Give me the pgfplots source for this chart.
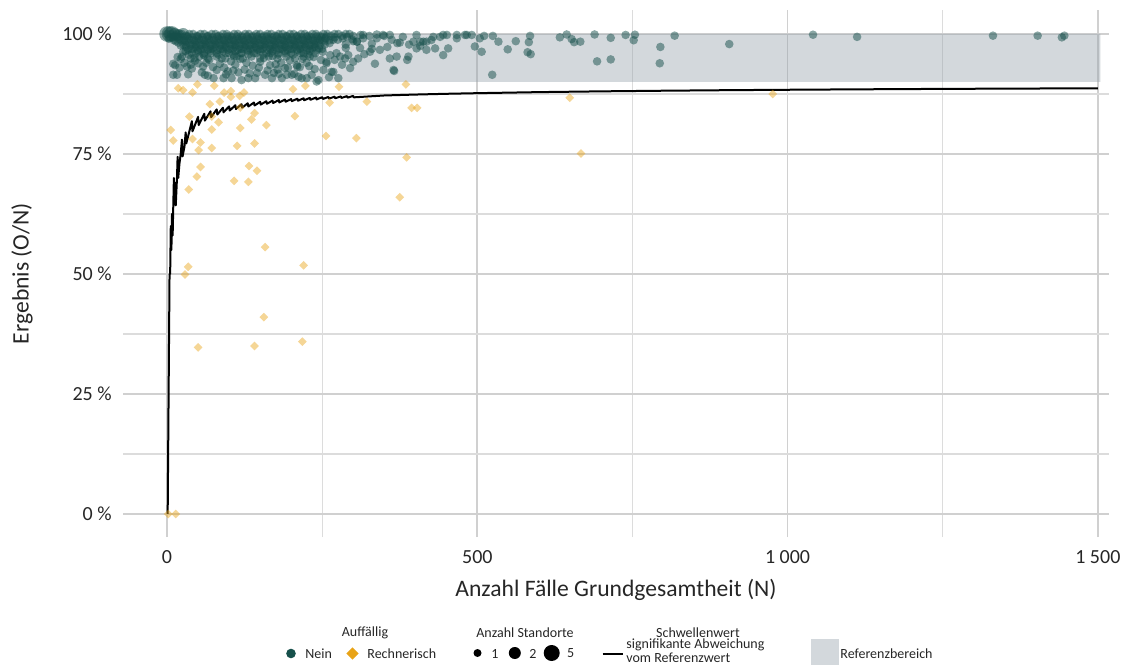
\documentclass[border=0pt]{standalone}
\usepackage{fontspec}
\setmainfont{Carlito}
\usepackage{pgfplots}
\pgfplotsset{compat=1.18}

\definecolor{nein}{RGB}{22,80,75}
\definecolor{rech}{RGB}{232,163,23}
\definecolor{refb}{RGB}{149,161,171}
\definecolor{refleg}{RGB}{211,216,220}
\definecolor{gridc}{RGB}{208,208,208}

\begin{document}
\begin{tikzpicture}[x=1pt,y=1pt]
\useasboundingbox (0,0) rectangle (561.5,332);
\clip (0,0) rectangle (561.5,332);
\begin{axis}[
  at={(61.5pt,63.5pt)}, anchor=south west,
  width=493pt, height=263.5pt, scale only axis,
  xmin=-71, xmax=1518, ymin=-4.8, ymax=105,
  axis line style={draw=none},
  major tick length=0pt, minor tick length=0pt,
  xtick={0,500,1000,1500}, xticklabels={0,500,{1 000},{1 500}},
  minor xtick={250,750,1250},
  ytick={0,25,50,75,100}, yticklabels={0 \%,25 \%,50 \%,75 \%,100 \%},
  minor ytick={12.5,37.5,62.5,87.5},
  grid=both,
  major grid style={gridc, line width=0.9pt},
  minor grid style={gridc!75, line width=0.6pt},
  tick label style={font=\fontsize{10}{12}\selectfont, text=black!85},
  yticklabel style={inner sep=0pt, xshift=-5.5pt},
  xticklabel style={inner sep=0pt, yshift=-6.5pt},
  xlabel={Anzahl Fälle Grundgesamtheit (N)},
  ylabel={Ergebnis (O/N)},
  label style={font=\fontsize{11.8}{13}\selectfont, text=black!85},
  xlabel style={at={(axis description cs:0.5,-0.1006)}, anchor=center},
  ylabel style={at={(axis description cs:-0.1024,0.5)}, anchor=center},
  neinmark/.style={only marks, mark=*, color=nein,
    mark options={fill=nein, fill opacity=0.5, draw opacity=0}},
]
% Referenzbereich
\addplot[draw=none, fill=refb, fill opacity=0.42] coordinates {(0,90) (0,100) (1504,100) (1504,90) (0,90)};

% Schwellenwert
\addplot[black, line width=1pt, line join=round] coordinates {
(1,0) (4,50) (5,50) (6,60) (7,55) (8,62.5) (9,58) (10,64) (11,70) (12,66) (13,69) (14,64.3)
(16,70) (17,74.4) (18,70) (20,73) (22,75) (24,78) (25,74.5) (28,76.5) (30,79.5) (31,77.2)
(40,81.83) (41,79.73) (50,82.72) (51,81.03) (60,83.38) (61,81.96) (70,83.88) (71,82.67)
(80,84.29) (81,83.22) (90,84.63) (91,83.68) (100,84.92) (101,84.05) (110,85.16) (111,84.37)
(120,85.37) (121,84.65) (130,85.56) (131,84.89) (140,85.72) (141,85.10) (150,85.87) (151,85.29)
(160,86.00) (161,85.46) (170,86.12) (171,85.62) (180,86.24) (181,85.75) (190,86.34) (191,85.88)
(200,86.43) (201,86.00) (210,86.52) (211,86.10) (220,86.60) (221,86.20) (230,86.68) (231,86.29)
(240,86.75) (241,86.38) (250,86.82) (251,86.46) (260,86.88) (261,86.54) (270,86.94) (271,86.61)
(280,87.00) (281,86.68) (290,87.05) (291,86.74) (300,87.10) (301,86.80)
(350,87.19) (400,87.38) (450,87.54) (500,87.67) (600,87.89) (700,88.05) (800,88.18)
(900,88.29) (1000,88.38) (1100,88.46) (1200,88.53) (1300,88.59) (1400,88.64) (1500,88.69)
};

% Auffaellig: Nein, 1 Standort
\addplot[neinmark, mark size=2.15pt] coordinates {
(0,100) (6,100) (12,99.6) (18,100) (24,100) (30,99.6) (36,100) (42,100) (48,99.6) (54,100) (60,100)
(66,99.6) (72,100) (78,100) (84,99.6) (90,100) (96,100) (102,99.6) (108,100) (114,100) (120,99.6)
(126,100) (132,100) (138,99.6) (144,100) (150,100) (156,99.6) (162,100) (168,100) (174,99.6)
(180,100) (186,100) (192,99.6) (198,100) (204,100) (210,99.6) (216,100) (222,100) (228,99.6)
(234,100) (240,100) (246,99.6) (252,100) (258,100) (264,99.6) (270,100) (276,100) (282,99.6)
(288,100) (294,100) (300,99.6) (312,99.8) (326,99.6) (338,99.9) (350,99.6)
(9,99.3) (17,99.5) (25,99.3) (33,99.5) (41,99.3) (49,99.5) (57,99.3) (65,99.5) (73,99.3) (81,99.5)
(89,99.3) (97,99.5) (105,99.3) (113,99.5) (121,99.3) (129,99.5) (137,99.3) (145,99.5) (153,99.3)
(161,99.5) (169,99.3) (177,99.5) (185,99.3) (193,99.5) (201,99.3) (209,99.5) (217,99.3) (225,99.5)
(233,99.3) (241,99.5) (249,99.3) (257,99.5) (270,99.3) (290,99.4)
(3,99.0) (11,98.7) (19,99.0) (27,98.7) (35,99.0) (43,98.7) (51,99.0) (59,98.7) (67,99.0) (75,98.7)
(83,99.0) (91,98.7) (99,99.0) (107,98.7) (115,99.0) (123,98.7) (131,99.0) (139,98.7) (147,99.0)
(155,98.7) (163,99.0) (171,98.7) (179,99.0) (187,98.7) (195,99.0) (203,98.7) (211,99.0) (219,98.7)
(227,99.0) (235,98.7) (243,99.0) (255,99.1) (268,98.8) (283,99.1) (298,98.9) (316,99.1) (338,99.1)
(14,98.5) (22,98.7) (30,98.5) (38,98.7) (46,98.5) (54,98.7) (62,98.5) (70,98.7) (78,98.5) (86,98.7)
(94,98.5) (102,98.7) (110,98.5) (118,98.7) (126,98.5) (134,98.7) (142,98.5) (150,98.7) (158,98.5)
(166,98.7) (174,98.5) (182,98.7) (190,98.5) (198,98.7) (206,98.5) (214,98.7) (222,98.5) (230,98.7)
(238,98.5) (246,98.7) (254,98.5) (262,98.7)
(18,98.2) (26,97.8) (34,98.2) (42,97.8) (50,98.2) (58,97.8) (66,98.2) (74,97.8) (82,98.2) (90,97.8)
(98,98.2) (106,97.8) (114,98.2) (122,97.8) (130,98.2) (138,97.8) (146,98.2) (154,97.8) (162,98.2)
(170,97.8) (178,98.2) (186,97.8) (194,98.2) (202,97.8) (210,98.2) (218,97.8) (226,98.2) (234,97.8)
(242,98.2) (250,98.6) (262,98.1) (275,98.8) (288,97.8) (300,98.5) (306,98.4)
(22,97.6) (30,97.8) (38,97.6) (46,97.8) (54,97.6) (62,97.8) (70,97.6) (78,97.8) (86,97.6) (94,97.8)
(102,97.6) (110,97.8) (118,97.6) (126,97.8) (134,97.6) (142,97.8) (150,97.6) (158,97.8) (166,97.6)
(174,97.8) (182,97.6) (190,97.8) (198,97.6) (206,97.8) (214,97.6) (222,97.8) (230,97.6) (238,97.8)
(246,97.6) (254,97.8)
(30,97.3) (38,96.9) (46,97.3) (54,96.9) (62,97.3) (70,96.9) (78,97.3) (86,96.9) (94,97.3) (102,96.9)
(110,97.3) (118,96.9) (126,97.3) (134,96.9) (142,97.3) (150,96.9) (158,97.3) (166,96.9) (174,97.3)
(182,96.9) (190,97.3) (198,96.9) (206,97.3) (214,96.9) (222,97.3) (230,96.9) (238,97.3) (245,97.0)
(288,97.1) (311,97.1) (343,96.7)
(34,96.7) (42,96.9) (50,96.7) (58,96.9) (66,96.7) (74,96.9) (82,96.7) (90,96.9) (98,96.7) (106,96.9)
(114,96.7) (122,96.9) (130,96.7) (138,96.9) (146,96.7) (154,96.9) (162,96.7) (170,96.9) (178,96.7)
(186,96.9) (194,96.7) (202,96.9) (210,96.7) (218,96.9) (226,96.7) (234,96.9) (242,96.7) (250,96.9)
(30,96.4) (40,96.0) (50,96.4) (60,96.0) (70,96.4) (80,96.0) (90,96.4) (100,96.0) (110,96.4)
(120,96.0) (130,96.4) (140,96.0) (150,96.4) (160,96.0) (170,96.4) (180,96.0) (190,96.4) (200,96.0)
(210,96.4) (220,96.0) (230,96.4) (251,96.3) (273,96.0) (327,96.3)
(35,95.7) (47,96.0) (59,95.7) (71,96.0) (83,95.7) (95,96.0) (107,95.7) (119,96.0) (131,95.7)
(143,96.0) (155,95.7) (167,96.0) (179,95.7) (191,96.0) (203,95.7) (215,96.0) (227,95.7) (239,96.0)
(24,95.3) (38,94.9) (52,95.3) (66,94.9) (80,95.3) (94,94.9) (108,95.3) (122,94.9) (136,95.3)
(150,94.9) (164,95.3) (178,94.9) (192,95.3) (206,94.9) (220,95.3) (230,95.3) (263,95.6) (279,95.3)
(287,94.9) (308,94.9) (359,94.9) (370,95.3) (389,95.3)
(22,94.8) (32,93.2) (44,95.0) (56,92.0) (63,94.0) (74,93.1) (88,94.9) (92,93.0) (103,94.3) (115,92.0)
(128,94.0) (133,91.8) (148,93.0) (156,95.0) (166,93.5) (172,91.9) (184,94.0) (195,93.0) (205,91.7)
(218,94.8) (229,93.3) (248,94.6) (252,92.5) (270,94.6) (282,93.6) (60,95.5) (112,95.3) (170,95.4)
(236,95.2) (292,95.6) (318,95.8) (335,93.8) (10,93.8) (17,95.2) (38,93.6) (66,91.3) (107,92.4)
(178,92.6) (212,91.1) (261,91.0)
(13,93.5) (16,91.5) (34,91.6) (50,93.9) (61,91.5) (75,90.8) (91,90.8) (104,90.8) (120,90.4)
(131,90.8) (142,90.8) (158,91.5) (169,90.8) (185,90.8) (201,91.5) (217,90.8) (233,91.5) (244,90.4)
(20,93.0) (28,94.0) (40,92.8) (45,94.4) (58,93.2) (68,94.6) (80,92.5) (85,93.8) (98,92.2) (110,93.6)
(118,94.8) (125,92.6) (138,93.4) (150,94.2) (162,92.4) (175,93.7) (190,92.9) (198,94.5) (210,93.2)
(225,94.0) (238,92.7) (10,91.5) (26,96.3) (95,91.6) (145,91.9) (180,91.7) (257,94.2) (268,92.1)
(276,90.8) (295,92.9) (300,94.2) (366,92.3) (387,94.6) (365,92.5) (257,93.9) (265,92.1) (241,90.1)
(225,90.8) (209,93.5) (193,91.5) (214,93.1)
(330,98.0) (355,97.3) (362,98.8) (380,99.4) (390,97.8) (330,96.9)
(359,99.8) (371,98.1) (402,97.0) (408,98.4) (418,98.4) (426,98.75) (432,97.0) (440,99.4) (451,99.8)
(453,97.0) (467,99.1) (483,99.8) (496,97.4) (507,96.3) (402,99.8) (413,98.4) (429,99.4) (445,99.8)
(467,99.8) (480,99.8) (491,99.8) (504,99.1) (445,95.6) (418,96.7) (408,97.5) (397,98.4) (375,98.2)
(348,99.8) (316,99.8) (306,98.4)
(511,99.6) (525,99.6) (534,98.4) (549,96.8) (562,98.5) (524,91.5) (585,99.6) (583,98.3) (581,96.2)
(586,95.8) (633,99.3) (644,99.9) (652,98.95) (656,98.3) (666,98.4) (689,99.9) (715,99.2) (693,94.3)
(715,94.7) (739,99.8) (754,99.85) (752,98.7) (795,97.3) (794,93.9) (818,99.65) (906,97.9)
(1041,99.85) (1112,99.4) (1331,99.65) (1403,99.65) (1442,99.3) (1446,99.65)
};
% Nein, 2 Standorte
\addplot[neinmark, mark size=3pt] coordinates {
(12,100) (18,99.8) (26,100)
};
% Nein, 5 Standorte
\addplot[neinmark, mark size=3.9pt] coordinates {
(0,100) (4,100) (8,100)
};

% Auffaellig: Rechnerisch
\addplot[only marks, mark=square*, mark size=1.55pt, color=rech,
  mark options={rotate=45, fill=rech, fill opacity=0.45, draw opacity=0}] coordinates {
(18,88.7) (26,88.3) (41,87.8) (49,89.5) (76,89.2) (92,87.8) (103,88.1) (103,86.9) (117,87.1) (124,87.8)
(203,88.5) (223,89.2) (277,89.0) (385,89.5) (69,85.4) (85,85.9) (36,82.8) (6,80.0) (10,77.8) (41,78.1)
(54,77.4) (51,75.8) (72,80.1) (83,81.6) (72,76.25) (118,80.4) (113,76.7) (136,82.2) (141,83.5) (141,77.2)
(160,81.0) (206,82.9) (256,78.75) (262,85.7) (305,78.3) (322,85.9) (394,84.6) (403,84.6) (386,74.3)
(54,72.3) (48,70.3) (35,67.6) (108,69.4) (131,69.2) (132,72.5) (145,71.5) (375,66.0) (72,82.8) (118,84.7)
(158,55.6) (34,51.5) (29,49.9) (220,51.8) (156,41.0) (50,34.7) (141,35.0) (218,35.9) (2,0) (14,0)
(649,86.7) (976,87.5) (667,75.1)
};
\end{axis}

% Legende
\begin{scope}[font=\fontsize{7}{8.4}\selectfont, text=black!85]
\node[anchor=center] at (182.5,15.5) {Auffällig};
\fill[nein] (145.5,5.25) circle (2.4);
\node[anchor=west, inner sep=0pt] at (152.5,5.25) {Nein};
\fill[rech, rotate around={45:(176.25,5.25)}] (174.1,3.1) rectangle (178.4,7.4);
\node[anchor=west, inner sep=0pt] at (183.5,5.25) {Rechnerisch};
\node[anchor=center] at (262.5,15.5) {Anzahl Standorte};
\fill[black] (238.75,5.5) circle (2);
\node[anchor=west, inner sep=0pt] at (245.5,5.25) {1};
\fill[black] (257.4,5.5) circle (3);
\node[anchor=west, inner sep=0pt] at (264.5,5.25) {2};
\fill[black] (275.85,5.5) circle (4);
\node[anchor=west, inner sep=0pt] at (283.3,5.25) {5};
\node[anchor=center] at (349,15.5) {Schwellenwert};
\draw[black, line width=0.8pt] (301.3,5) -- (311.5,5);
\node[anchor=west, inner sep=0pt] at (313,9.4) {signifikante Abweichung};
\node[anchor=west, inner sep=0pt] at (313,3.0) {vom Referenzwert};
\fill[refleg] (405.5,-1.5) rectangle (419.5,12.5);
\node[anchor=west, inner sep=0pt] at (420,5.25) {Referenzbereich};
\end{scope}
\end{tikzpicture}
\end{document}
